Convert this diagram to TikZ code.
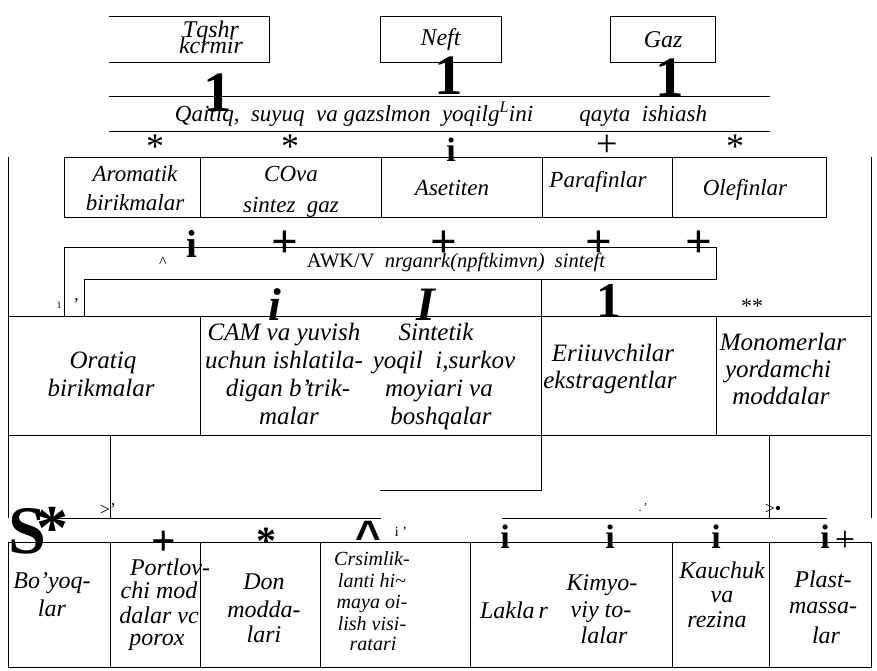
\documentclass[tikz,border=0pt]{standalone}
\usepackage{fontspec}
\setmainfont{Liberation Serif}
\newfontfamily\sansbold{Liberation Sans}
\newcommand\myfs[2]{\fontsize{#1}{#2}\selectfont}
\begin{document}
\begin{tikzpicture}[x=1pt,y=-1pt,
  ln/.style={line width=0.9pt},
  txt/.style={anchor=base, inner sep=0pt, font=\myfs{23}{28}\itshape},
  txb/.style={anchor=base, inner sep=0pt, font=\myfs{24}{28}\itshape},
  txc/.style={anchor=base, inner sep=0pt, font=\myfs{25}{28}\itshape},
  cr/.style={anchor=base, inner sep=0pt, font=\myfs{20}{22}\itshape},
  sym/.style={anchor=base, inner sep=0pt},
  bigone/.style={anchor=base, inner sep=0pt, font=\bfseries\myfs{57}{57}},
  boxn/.style={draw, line width=0.9pt, inner sep=0pt, font=\myfs{24}{28}\itshape}]
\useasboundingbox (0,0) rectangle (877,671);

% ---------- top sources ----------
\draw[ln] (109,16.7) -- (269.3,16.7) -- (269.3,62.3) -- (109,62.3);
\node[txt, font=\myfs{24}{16}\itshape] (tq1) at (211,38) {Tqshr};
\node[txt, font=\myfs{24}{16}\itshape] (tq2) at (211,54) {kcrmir};
\node[boxn, minimum width=121pt, minimum height=45.6pt] (neft) at (440.5,39.5) {Neft};
\node[boxn, minimum width=105pt, minimum height=45.6pt] (gaz) at (663.2,39.5) {Gaz};
\node[bigone] (one1) at (218,112) {1};
\node[bigone] (one2) at (449,95) {1};
\node[bigone] (one3) at (670,97) {1};

% ---------- processing band ----------
\draw[ln] (109,96) -- (770,96);
\draw[ln] (109,131) -- (770,131);
\node[txt, font=\myfs{23}{26}\itshape] (band) at (441,122)
  {Qaitiq,\ \ suyuq\ \ va\ gazslmon\ \ yoqilg\textsuperscript{L}ini\qquad qayta\ \ ishiash};

\node[sym, font=\myfs{36}{36}] (sa1) at (155,159) {*};
\node[sym, font=\myfs{36}{36}] (sa2) at (290,159) {*};
\node[sym, font=\bfseries\myfs{34}{34}] (sa3) at (451,162) {i};
\node[sym, font=\myfs{38}{38}] (sa4) at (607,157) {+};
\node[sym, font=\myfs{36}{36}] (sa5) at (735,159) {*};

% ---------- outer borders ----------
\draw[ln] (8.3,157) -- (8.3,518.3);
\draw[ln] (871.7,157.5) -- (871.7,518.3);

% ---------- row 1 ----------
\draw[ln] (64.7,157.5) rectangle (826.7,217.5);
\foreach \cx in {200.7,381,542,672} \draw[ln] (\cx,157.5) -- (\cx,217.5);
\node[txt] (r1a) at (135,181.7) {Aromatik};
\node[txt] (r1b) at (135,210) {birikmalar};
\node[txt] (r1c) at (291,181.7) {COva};
\node[txt] (r1d) at (291,212) {sintez\ \ gaz};
\node[txt] (r1e) at (452,195) {Asetiten};
\node[txt] (r1f) at (598,187) {Parafinlar};
\node[txt] (r1g) at (745,195) {Olefinlar};

\node[sym, font=\bfseries\myfs{39}{39}] (pi) at (192,257) {i};
\node[sym, font=\bfseries\myfs{47}{47}] (pp1) at (285,257) {+};
\node[sym, font=\bfseries\myfs{47}{47}] (pp2) at (444,257) {+};
\node[sym, font=\bfseries\myfs{47}{47}] (pp3) at (599,257) {+};
\node[sym, font=\bfseries\myfs{47}{47}] (pp4) at (699,257) {+};

% ---------- synthesis band ----------
\draw[ln] (64.3,316.7) -- (64.3,247.3) -- (716,247.3) -- (716,279.3) -- (84.3,279.3) -- (84.3,316.7);
\draw[ln] (541.7,279.3) -- (541.7,316.7);
\node[sym, font=\myfs{16}{16}] (car1) at (163,267) {\string^};
\node[txt, font=\myfs{20.5}{24}\itshape] (awk) at (456,267)
  {{\upshape AWK/V}\ \ nrganrk(npftkimvn)\ \ sinteft};

\node[sym, font=\myfs{10}{10}] (tiny1) at (59,308) {1};
\node[sym, font=\myfs{18}{18}\itshape] (prm) at (75,310) {'};
\node[sym, font=\bfseries\itshape\myfs{46}{46}] (bi) at (275,320) {i};
\node[sym, font=\bfseries\itshape\myfs{48}{48}] (bI) at (426,320) {I};
\node[sym, font=\bfseries\myfs{50}{50}] (b1) at (609,317) {1};
\node[sym, font=\myfs{22}{22}] (ast2) at (752,313) {**};

% ---------- row 2 ----------
\draw[ln] (8.3,316.7) rectangle (871.7,435);
\foreach \cx in {200,541.7,716} \draw[ln] (\cx,316.7) -- (\cx,435);
\node[txc] (o1) at (103,368) {Oratiq};
\node[txc] (o2) at (101,396) {birikmalar};
\node[txc] (c1) at (284,340) {CAM va yuvish};
\node[txc] (c2) at (284,368) {uchun ishlatila-};
\node[txc] (c3) at (288,396) {digan b'trik-};
\node[txc] (c4) at (289,424) {malar};
\node[txc] (si1) at (436,340) {Sintetik};
\node[txc] (si2) at (444,368) {yoqil\ \ i,surkov};
\node[txc] (si3) at (439,396) {moyiari va};
\node[txc] (si4) at (441,424) {boshqalar};
\node[txc] (e1) at (613,361) {Eriiuvchilar};
\node[txc] (e2) at (610,388) {ekstragentlar};
\node[txc] (m1) at (783,350) {Monomerlar};
\node[txc] (m2) at (778,377) {yordamchi};
\node[txc] (m3) at (781,404) {moddalar};

% ---------- distribution lines ----------
\draw[ln] (110,435) -- (110,518.3);
\draw[ln] (769,435) -- (769,518.3);
\draw[ln] (541.7,435) -- (541.7,490) -- (380,490);
\draw[ln] (56,518.3) -- (381,518.3);
\draw[ln] (502,518.3) -- (826.6,518.3);

\node[sym, font=\bfseries\myfs{68}{68}] (bigS) at (27,553) {S};
\node[sym, font=\bfseries\myfs{64}{64}] (bigA) at (52,549) {*};
\node[sym, font=\myfs{18}{18}] (gt1) at (108,515) {>'};
\node[sym, font=\bfseries\myfs{43}{43}] (pl3) at (164,555) {+};
\node[sym, font=\bfseries\myfs{40}{40}] (ast3) at (266,554) {*};
\node[sym, font=\sansbold\bfseries\myfs{44}{44}] (car2) at (368,551) {\string^};
\node[sym, font=\myfs{14}{14}] (ii) at (401,536) {i '};
\node[sym, font=\bfseries\myfs{34}{34}] (i1) at (505,548) {i};
\node[sym, font=\bfseries\myfs{34}{34}] (i2) at (610,548) {i};
\node[sym, font=\bfseries\myfs{34}{34}] (i3) at (716,548) {i};
\node[sym, font=\bfseries\myfs{34}{34}] (i4) at (825,548) {i};
\node[sym, font=\myfs{36}{36}] (pl4) at (845,551) {+};
\node[sym, font=\myfs{12}{12}] (dt) at (643,511) {.\,'};
\node[sym, font=\myfs{18}{18}] (gtb) at (773,514) {>•};

% ---------- row 3 ----------
\draw[ln] (8.3,542.5) rectangle (871.7,667);
\foreach \cx in {110,200,320,470,672,769} \draw[ln] (\cx,542.5) -- (\cx,667);
\node[txb] (bo1) at (52,588) {Bo'yoq-};
\node[txb] (bo2) at (52,616) {lar};
\node[txb] (po1) at (170,575) {Portlov-};
\node[txb] (po2) at (159,598) {chi mod};
\node[txb] (po3) at (159,623) {dalar vc};
\node[txb] (po4) at (157,645) {porox};
\node[txb] (d1) at (264,589) {Don};
\node[txb] (d2) at (264,617) {modda-};
\node[txb] (d3) at (264,642) {lari};
\node[cr] (cr1) at (372,565) {Crsimlik-};
\node[cr] (cr2) at (372,587) {lanti hi\textasciitilde};
\node[cr] (cr3) at (372,608) {maya oi-};
\node[cr] (cr4) at (372,630) {lish visi-};
\node[cr] (cr5) at (373,650) {ratari};
\node[txb] (la) at (514,618) {Lakla\,r};
\node[txb] (k1) at (602,590) {Kimyo-};
\node[txb] (k2) at (601,617) {viy to-};
\node[txb] (k3) at (604,643) {lalar};
\node[txb] (ka1) at (722,578) {Kauchuk};
\node[txb] (ka2) at (722,602) {va};
\node[txb] (ka3) at (717,627) {rezina};
\node[txb] (pm1) at (823,587) {Plast-};
\node[txb] (pm2) at (823,613) {massa-};
\node[txb] (pm3) at (826,643) {lar};
\end{tikzpicture}
\end{document}
